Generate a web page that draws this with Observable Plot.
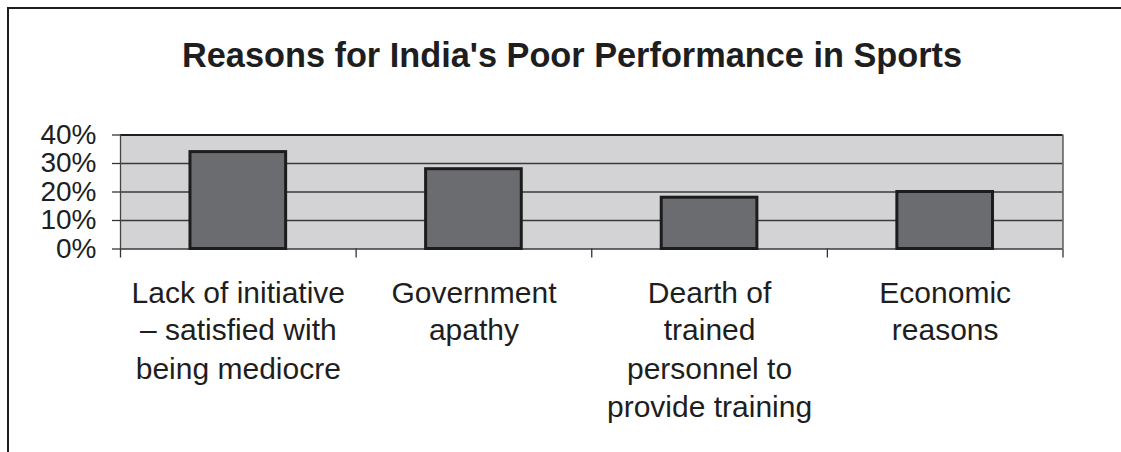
<!DOCTYPE html>
<html>
<head>
<meta charset="utf-8">
<script src="https://cdn.jsdelivr.net/npm/d3@7"></script>
<script src="https://cdn.jsdelivr.net/npm/@observablehq/plot@0.6"></script>
<style>
  html, body { margin: 0; padding: 0; background: #fff; }
  #wrap { position: relative; width: 1121px; height: 452px; overflow: hidden; font-family: "Liberation Sans", Arial, sans-serif; }
  #frame { position: absolute; left: 7px; top: 7px; width: 1130px; height: 460px; border-top: 2.5px solid #1e1e1e; border-left: 2.5px solid #1e1e1e; }
  #title { position: absolute; left: 0; top: 38px; width: 1144px; text-align: center; font-size: 34.3px; line-height: 34px; font-weight: bold; color: #1e1e1e; }
  #chart { position: absolute; left: 0; top: 0; }
</style>
</head>
<body>
<div id="wrap">
  <div id="frame"></div>
  <div id="title">Reasons for India's Poor Performance in Sports</div>
  <div id="chart"></div>
</div>
<script>
const categories = [
  "Lack of initiative\n– satisfied with\nbeing mediocre",
  "Government\napathy",
  "Dearth of\ntrained\npersonnel to\nprovide training",
  "Economic\nreasons"
];
const values = [0.34, 0.28, 0.18, 0.20];
const yTicks = [0, 0.1, 0.2, 0.3, 0.4];

const data = categories.map((c, i) => ({category: c, index: i, value: values[i]}));
const n = categories.length;
const halfBar = 0.203;
const boundaries = d3.range(n + 1);

const chart = Plot.plot({
  width: 1121,
  height: 452,
  marginLeft: 120,
  marginRight: 58.5,
  marginTop: 134.5,
  marginBottom: 203.5,
  style: {fontFamily: "'Liberation Sans', Arial, sans-serif", background: "transparent", overflow: "visible"},
  x: {domain: [0, n], label: null},
  y: {domain: [0, 0.4], label: null},
  marks: [
    Plot.frame({fill: "#d3d3d5", stroke: null}),
    Plot.ruleY([0.1, 0.2, 0.3], {stroke: "#3a3a3a", strokeWidth: 1.4}),
    Plot.ruleY([0], {stroke: "#3a3a3a", strokeWidth: 1.6}),
    Plot.ruleY([0.4], {stroke: "#1e1e1e", strokeWidth: 2.2}),
    Plot.ruleX([0, n], {stroke: "#444", strokeWidth: 1.3, y1: 0, y2: 0.4}),
    Plot.axisX({ticks: boundaries, tickSize: 9, tickFormat: () => "", label: null, stroke: "#333", strokeWidth: 1.3}),
    Plot.axisY({ticks: yTicks, tickSize: 8, tickPadding: 16, tickFormat: d3.format(".0%"), label: null,
      fontSize: 28, fill: "#1e1e1e", stroke: "#333", strokeWidth: 1.3}),
    Plot.rectY(data, {
      x1: d => d.index + 0.5 - halfBar,
      x2: d => d.index + 0.5 + halfBar,
      y: "value",
      fill: "#6b6c70",
      stroke: "#1c1c1c",
      strokeWidth: 3
    }),
    Plot.text(data, {
      x: d => d.index + 0.5,
      y: 0,
      text: "category",
      lineAnchor: "top",
      lineHeight: 1.267,
      dy: 26.5,
      fontSize: 30,
      fill: "#1e1e1e"
    })
  ]
});
document.getElementById("chart").appendChild(chart);
</script>
</body>
</html>
